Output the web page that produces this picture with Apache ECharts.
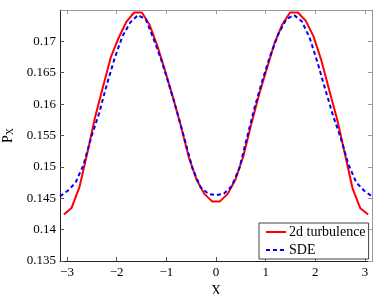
<!DOCTYPE html>
<html>
<head>
<meta charset="utf-8">
<script src="https://cdn.jsdelivr.net/npm/echarts@6/dist/echarts.min.js"></script>
<style>html,body{margin:0;padding:0;background:#fff}#c{width:377px;height:294px}</style>
</head>
<body>
<div id="c"></div>
<script>
var xTicks = [-3, -2, -1, 0, 1, 2, 3];
var yTicks = [0.135, 0.14, 0.145, 0.15, 0.155, 0.16, 0.165, 0.17];

var turbX = [-3.063, -2.906, -2.749, -2.592, -2.435, -2.278, -2.121, -1.964, -1.806, -1.649,
             -1.492, -1.335, -1.178, -1.021, -0.864, -0.707, -0.550, -0.393, -0.236, -0.079,
             0.079, 0.236, 0.393, 0.550, 0.707, 0.864, 1.021, 1.178, 1.335, 1.492,
             1.649, 1.806, 1.964, 2.121, 2.278, 2.435, 2.592, 2.749, 2.906, 3.063];
var turbY = [0.1424, 0.1435, 0.1468, 0.1522, 0.1579, 0.1627, 0.1674, 0.1705, 0.1731, 0.1746,
             0.1746, 0.1726, 0.1692, 0.1652, 0.1610, 0.1565, 0.1516, 0.1480, 0.1457, 0.1445,
             0.1445, 0.1457, 0.1480, 0.1517, 0.1567, 0.1614, 0.1656, 0.1697, 0.1727, 0.1746,
             0.1746, 0.1733, 0.1708, 0.1670, 0.1623, 0.1577, 0.1522, 0.1466, 0.1434, 0.1424];

var sdeX = [-3.142, -2.985, -2.827, -2.670, -2.513, -2.356, -2.199, -2.042, -1.885, -1.728,
            -1.571, -1.414, -1.257, -1.100, -0.942, -0.785, -0.628, -0.471, -0.314, -0.157,
            0.000, 0.157, 0.314, 0.471, 0.628, 0.785, 0.942, 1.100, 1.257, 1.414,
            1.571, 1.728, 1.885, 2.042, 2.199, 2.356, 2.513, 2.670, 2.827, 2.985, 3.142];
var sdeY = [0.1453, 0.1462, 0.1475, 0.1503, 0.1547, 0.1585, 0.1631, 0.1673, 0.1708, 0.1730,
            0.1742, 0.1735, 0.1704, 0.1670, 0.1630, 0.1588, 0.1543, 0.1497, 0.1468, 0.1457,
            0.1455, 0.1457, 0.1469, 0.1498, 0.1548, 0.1597, 0.1640, 0.1679, 0.1712, 0.1735,
            0.1742, 0.1732, 0.1706, 0.1667, 0.1624, 0.1582, 0.1546, 0.1503, 0.1475, 0.1462, 0.1453];

function pairs(xs, ys) { return xs.map(function (x, i) { return [x, ys[i]]; }); }

var FONT = '"Liberation Serif", "DejaVu Serif", serif';
var chart = echarts.init(document.getElementById('c'), null, {renderer: 'canvas'});
var axisCommon = {
  type: 'value',
  splitLine: {show: false}
};
chart.setOption({
  animation: false,
  backgroundColor: '#fff',
  grid: {left: 60, right: 5, top: 10, bottom: 33, containLabel: false, outerBoundsMode: 'none'},
  xAxis: [
    Object.assign({}, axisCommon, {
      position: 'bottom', min: -Math.PI, max: Math.PI,
      name: 'X', nameLocation: 'middle', nameGap: 18,
      nameTextStyle: {fontFamily: FONT, fontSize: 14, color: '#000'},
      axisLine: {onZero: false, lineStyle: {color: '#222', width: 1}},
      axisTick: {inside: true, length: 4, customValues: xTicks, lineStyle: {color: '#555'}},
      axisLabel: {customValues: xTicks, margin: 5, fontFamily: FONT, fontSize: 13, color: '#000',
        formatter: function (v) { return String(v).replace('-', '\u2212'); }}
    }),
    Object.assign({}, axisCommon, {
      position: 'top', min: -Math.PI, max: Math.PI,
      axisLine: {onZero: false, lineStyle: {color: '#999', width: 1}},
      axisTick: {inside: true, length: 4, customValues: xTicks, lineStyle: {color: '#999'}},
      axisLabel: {show: false}
    })
  ],
  yAxis: [
    Object.assign({}, axisCommon, {
      position: 'left', min: 0.135, max: 0.175,
      name: '{p|P}{s|X}', nameLocation: 'middle', nameGap: 31, nameRotate: 90,
      nameTextStyle: {rich: {p: {fontFamily: FONT, fontSize: 14, color: '#000'},
                             s: {fontFamily: FONT, fontSize: 10, color: '#000', verticalAlign: 'bottom', padding: [6, 0, 0, 0]}}},
      axisLine: {onZero: false, lineStyle: {color: '#222', width: 1}},
      axisTick: {inside: true, length: 4, customValues: yTicks, lineStyle: {color: '#555'}},
      axisLabel: {customValues: yTicks, margin: 4, fontFamily: FONT, fontSize: 13, color: '#000',
        formatter: function (v) { return String(+v.toFixed(3)); }}
    }),
    Object.assign({}, axisCommon, {
      position: 'right', min: 0.135, max: 0.175,
      axisLine: {onZero: false, lineStyle: {color: '#999', width: 1}},
      axisTick: {inside: true, length: 4, customValues: yTicks, lineStyle: {color: '#999'}},
      axisLabel: {show: false}
    })
  ],
  legend: {
    orient: 'vertical', left: 259, top: 223, itemWidth: 20, itemHeight: 8, itemGap: 4,
    padding: [2, 3, 2, 6], borderColor: '#444', borderWidth: 1, backgroundColor: '#fff',
    itemStyle: {opacity: 0},
    textStyle: {fontFamily: FONT, fontSize: 14, color: '#000', padding: [0, 0, 0, -2]},
    data: ['2d turbulence', 'SDE']
  },
  series: [
    {name: '2d turbulence', type: 'line', xAxisIndex: 0, yAxisIndex: 0, symbol: 'none',
     data: pairs(turbX, turbY), lineStyle: {color: '#ff0000', width: 2}, itemStyle: {color: '#ff0000'}, z: 2},
    {name: 'SDE', type: 'line', xAxisIndex: 0, yAxisIndex: 0, symbol: 'none',
     data: pairs(sdeX, sdeY), lineStyle: {color: '#0000ff', width: 2, type: [4, 3]}, itemStyle: {color: '#0000ff'}, z: 3}
  ]
});
</script>
</body>
</html>
